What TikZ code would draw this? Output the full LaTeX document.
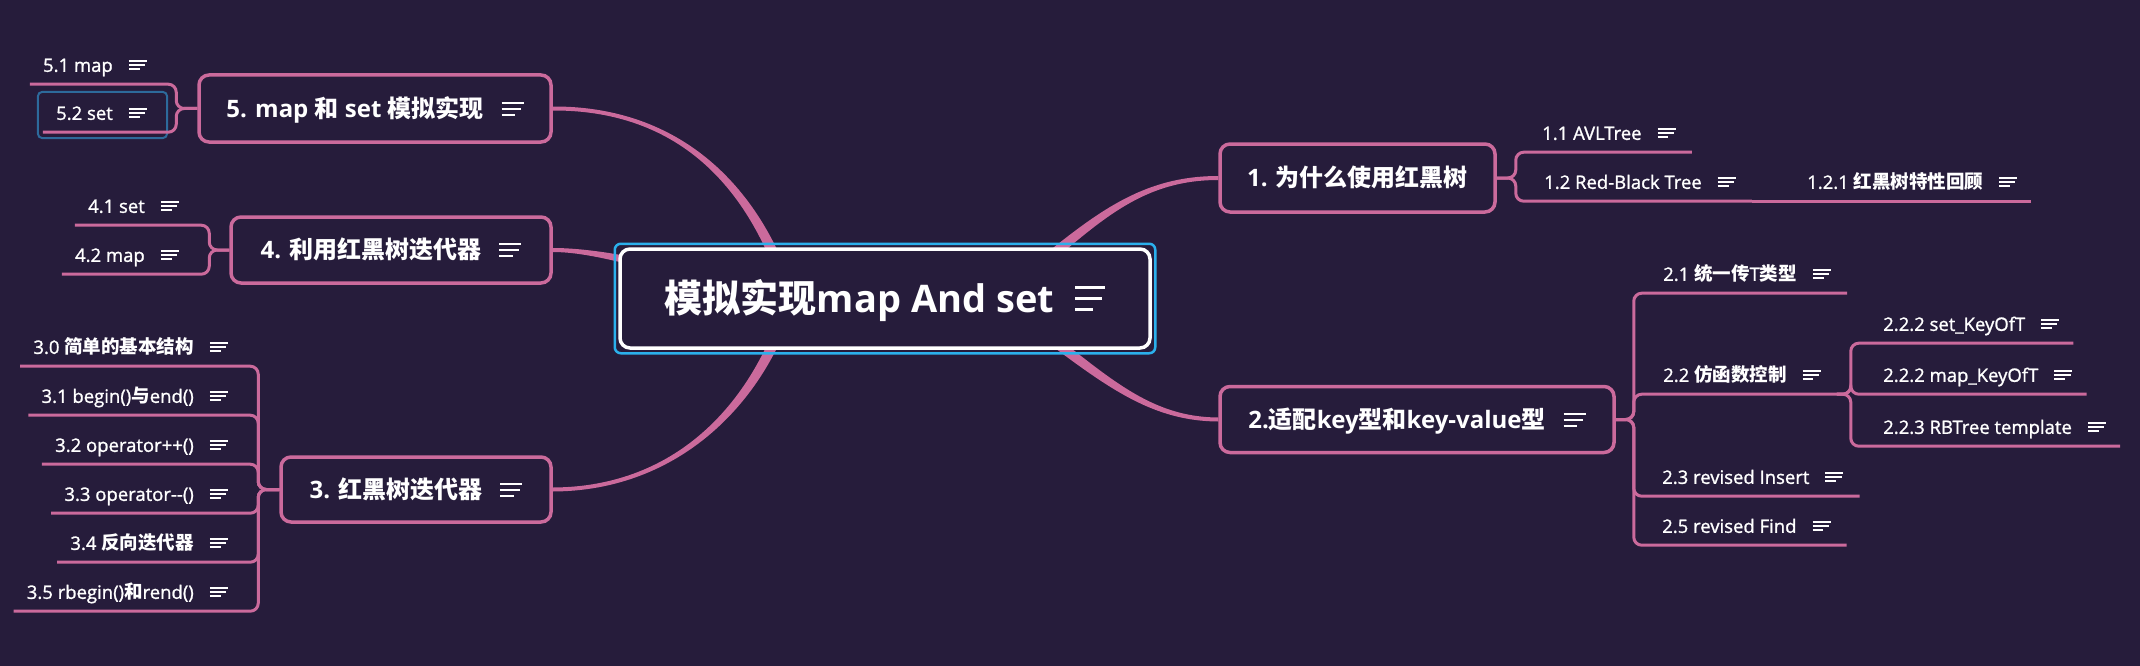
\documentclass[tikz,border=0pt]{standalone}
\usepackage{fontspec}
\setmainfont{Open Sans}
\newfontfamily\subfont[FakeBold=1.2]{Open Sans}
\newfontfamily\cjk{Noto Sans CJK SC}
\usetikzlibrary{calc,backgrounds}
\newcommand\zh[1]{{\cjk\bfseries #1}}
\newcommand\ico[3]{\raisebox{\dimexpr0.36em-(#2*3+#3*2)/2\relax}{\vbox{\hrule width #1 height #2\vskip #3\hrule width \dimexpr#1*9/10\relax height #2\vskip #3\hrule width \dimexpr#1*3/5\relax height #2}}}
\newcommand\subc[1]{#1\hspace{16pt}\ico{18pt}{2pt}{2.3pt}}
\newcommand\mainc[1]{#1\hspace{18pt}\ico{22pt}{2.4pt}{3.6pt}}
\definecolor{bg}{HTML}{261C3B}
\definecolor{pk}{HTML}{CB6A9C}
\definecolor{sel}{HTML}{2BB0EC}
\definecolor{selb}{HTML}{2D6A9B}
\newcommand\taper[5]{%
 \path (#1) coordinate (tA) (#2) coordinate (tC) (#3) coordinate (tD) (#4) coordinate (tB);
 \path ($(tA)!2pt!90:(tC)$) coordinate (tA1) ($(tA)!2pt!-90:(tC)$) coordinate (tA2)
       ($(tB)!#5!-90:(tD)$) coordinate (tB1) ($(tB)!#5!90:(tD)$) coordinate (tB2);
 \fill[pk] (tA1) .. controls ($(tC)+(tA1)-(tA)$) and ($(tD)+(tB1)-(tB)$) .. (tB1)
   -- (tB2) .. controls ($(tD)+(tB2)-(tB)$) and ($(tC)+(tA2)-(tA)$) .. (tA2) -- cycle;}
\tikzset{
  mainbox/.style={draw=pk, line width=3.5pt, rounded corners=10pt, fill=bg, text=white,
    font=\bfseries\fontsize{24}{28}\selectfont, inner sep=0pt, text height=21pt, text depth=3.2pt},
  subtxt/.style={text=white, font=\subfont\fontsize{18.5}{22}\selectfont, inner sep=0pt,
    minimum height=38pt, text height=16pt, text depth=2.3pt},
  conn/.style={draw=pk, line width=3pt, rounded corners=8pt},
}
\begin{document}
\begin{tikzpicture}[x=1pt,y=-1pt]
\useasboundingbox (0,0) rectangle (2140,666);
\begin{pgfonlayer}{background}
\fill[bg] (0,0) rectangle (2140,666);
\end{pgfonlayer}
% root
\node[draw=white, line width=3.5pt, rounded corners=10pt, fill=bg, text=white,
  font=\bfseries\fontsize{38}{44}\selectfont, inner sep=0pt, minimum width=530pt,
  minimum height=99pt, text height=33pt, text depth=5pt] (root) at (885,298.5)
  {\zh{模拟实现}map And set\hspace{21pt}\ico{30pt}{3.2pt}{7.8pt}};
\draw[sel, line width=2.5pt, rounded corners=6pt] ($(root.south west)+(-3.5,3.5)$) rectangle ($(root.north east)+(3.5,-3.5)$);
% main topics
\node[mainbox, minimum width=352pt, minimum height=67pt] (t5) at (375,108.5) {\mainc{5. map \zh{和} set \zh{模拟实现}}};
\node[mainbox, minimum width=320pt, minimum height=66pt] (t4) at (391,250) {\mainc{4. \zh{利用红黑树迭代器}}};
\node[mainbox, minimum width=270pt, minimum height=65pt] (t3) at (416,489.5) {\mainc{3. \zh{红黑树迭代器}}};
\node[mainbox, minimum width=275pt, minimum height=68pt] (t1) at (1357.5,178) {1. \zh{为什么使用红黑树}};
\node[mainbox, minimum width=394pt, minimum height=66pt] (t2) at (1417,419.5) {\mainc{2.\zh{适配}key\zh{型和}key-value\zh{型}}};
% left subtopics
\node[subtxt, anchor=east] (s51) at (147,65) {\subc{5.1 map}};
\node[subtxt, anchor=east] (s52) at (147,113) {\subc{5.2 set}};
\node[subtxt, anchor=east] (s41) at (179,206) {\subc{4.1 set}};
\node[subtxt, anchor=east] (s42) at (179,255) {\subc{4.2 map}};
\node[subtxt, anchor=east] (s30) at (228,347) {\subc{3.0 \zh{简单的基本结构}}};
\node[subtxt, anchor=east] (s31) at (228,396) {\subc{3.1 begin()\zh{与}end()}};
\node[subtxt, anchor=east] (s32) at (228,445) {\subc{3.2 operator++()}};
\node[subtxt, anchor=east] (s33) at (228,494) {\subc{3.3 operator-{}-()}};
\node[subtxt, anchor=east] (s34) at (228,543) {\subc{3.4 \zh{反向迭代器}}};
\node[subtxt, anchor=east] (s35) at (228,592) {\subc{3.5 rbegin()\zh{和}rend()}};
% right subtopics
\node[subtxt, anchor=west] (s11) at (1542,133) {\subc{1.1 AVLTree}};
\node[subtxt, anchor=west] (s12) at (1544,182) {\subc{1.2 Red-Black Tree}};
\node[subtxt, anchor=west] (s121) at (1807,182) {\subc{1.2.1 \zh{红黑树特性回顾}}};
\node[subtxt, anchor=west] (s21) at (1663,274) {\subc{2.1 \zh{统一传}T\zh{类型}}};
\node[subtxt, anchor=west] (s22) at (1663,375) {\subc{2.2 \zh{仿函数控制}}};
\node[subtxt, anchor=west] (s222a) at (1883,324) {\subc{2.2.2 set\_KeyOfT}};
\node[subtxt, anchor=west] (s222b) at (1883,375) {\subc{2.2.2 map\_KeyOfT}};
\node[subtxt, anchor=west] (s223) at (1883,427) {\subc{2.2.3 RBTree template}};
\node[subtxt, anchor=west] (s23) at (1662,477) {\subc{2.3 revised Insert}};
\node[subtxt, anchor=west] (s25) at (1662,526) {\subc{2.5 revised Find}};
% selection of 5.2
\draw[selb, line width=2pt, rounded corners=4pt] ($(s52.west)+(-18,-21)$) rectangle ($(s52.east)+(20,25)$);
% connectors left
\foreach \c in {s51,s52}{\draw[conn] (t5.west) -- ++(-21,0) |- ($(\c.south west)+(-13,0)$);}
\foreach \c in {s41,s42}{\draw[conn] (t4.west) -- ++(-20,0) |- ($(\c.south west)+(-13,0)$);}
\foreach \c in {s30,s31,s32,s33,s34,s35}{\draw[conn] (t3.west) -- ++(-21,0) |- ($(\c.south west)+(-13,0)$);}
% connectors right
\draw[conn] (t1.east) -- ++(19,0) |- ($(s11.south east)+(16,0)$);
\draw[conn] (t1.east) -- ++(19,0) |- ($(s12.south east)+(16,0)$) coordinate (s12e);
\draw[conn] (s12e) -- ($(s121.south east)+(14,0)$);
\foreach \c in {s21,s23,s25}{\draw[conn] (t2.east) -- ++(18,0) |- ($(\c.south east)+(16,0)$);}
\draw[conn] (t2.east) -- ++(18,0) |- ($(s22.south east)+(16,0)$) coordinate (s22e);
\foreach \c in {s222a,s222b,s223}{\draw[conn] (s22e) -- ++(14,0) |- ($(\c.south east)+(14,0)$);}
% tapered main branches
\begin{pgfonlayer}{background}
\taper{t5.east}{690,108}{760,200}{790,298}{5.5pt}
\taper{t4.east}{590,250}{640,262}{700,278}{5pt}
\taper{t3.east}{680,489}{760,400}{790,300}{5.5pt}
\taper{t1.west}{1130,178}{1085,230}{1000,298}{5.5pt}
\taper{t2.west}{1140,419}{1095,370}{1000,300}{5.5pt}
\end{pgfonlayer}
\end{tikzpicture}
\end{document}
